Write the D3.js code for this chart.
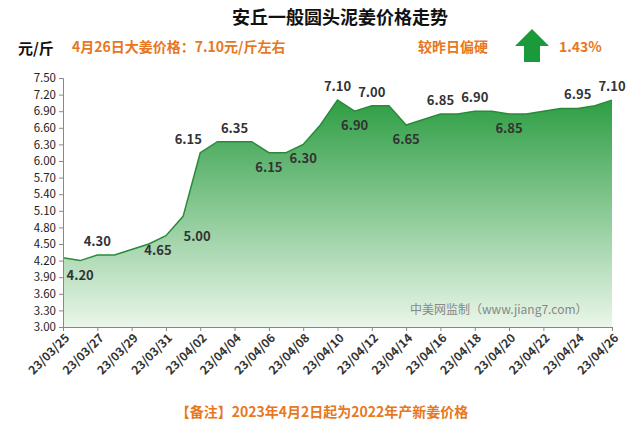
<!DOCTYPE html><html><head><meta charset="utf-8"><script src="https://cdn.jsdelivr.net/npm/d3@7"></script>
<style>body{margin:0;background:#fff}text{font-family:"Noto Sans CJK SC","Noto Sans",sans-serif}</style></head><body>
<svg id="c" width="640" height="425"></svg>
<script>
const dates=["23/03/25","23/03/26","23/03/27","23/03/28","23/03/29","23/03/30","23/03/31","23/04/01","23/04/02","23/04/03","23/04/04","23/04/05","23/04/06","23/04/07","23/04/08","23/04/09","23/04/10","23/04/11","23/04/12","23/04/13","23/04/14","23/04/15","23/04/16","23/04/17","23/04/18","23/04/19","23/04/20","23/04/21","23/04/22","23/04/23","23/04/24","23/04/25","23/04/26"];
const prices=[4.25,4.20,4.30,4.30,4.40,4.50,4.65,5.00,6.15,6.35,6.35,6.35,6.15,6.15,6.30,6.65,7.10,6.90,7.00,7.00,6.65,6.75,6.85,6.85,6.90,6.90,6.85,6.85,6.90,6.95,6.95,7.00,7.10];
const labelled=[[1,-1],[2,1],[6,-1],[7,-1],[8,1],[10,1],[12,-1],[14,-1],[16,1],[17,-1],[18,1],[20,-1],[22,1],[24,1],[26,-1],[30,1],[32,1]];
const yTicks=d3.range(3.0,7.51,0.3);
const svg=d3.select("#c");
const L=63,R=612,T=78,B=327;
const x=d3.scalePoint().domain(dates).range([L,R]);
const y=d3.scaleLinear().domain([3,7.5]).range([B,T]);
const g=svg.append("defs").append("linearGradient").attr("id","gr").attr("x1",0).attr("y1",0).attr("x2",0).attr("y2",1);
g.append("stop").attr("offset","0%").attr("stop-color","#2e9e44");
g.append("stop").attr("offset","100%").attr("stop-color","#eaf6ea");
const data=dates.map((d,i)=>({d,v:prices[i]}));
svg.append("path").datum(data).attr("fill","url(#gr)").attr("d",d3.area().x(p=>x(p.d)).y0(B).y1(p=>y(p.v)));
svg.append("path").datum(data).attr("fill","none").attr("stroke","#2a8a3a").attr("stroke-width",1.5).attr("d",d3.line().x(p=>x(p.d)).y(p=>y(p.v)));
const ya=svg.append("g").attr("transform",`translate(${L},0)`).call(d3.axisLeft(y).tickValues(yTicks).tickFormat(d3.format(".2f")).tickSize(4));
ya.selectAll("text").attr("font-size",11.5).attr("fill","#222");
const xa=svg.append("g").attr("transform",`translate(0,${B})`).call(d3.axisBottom(x).tickValues(dates.filter((d,i)=>i%2==0)).tickSize(4));
xa.selectAll("text").attr("font-size",12).attr("font-weight","bold").attr("fill","#333").attr("text-anchor","end").attr("dx","-0.3em").attr("dy","0.5em").attr("transform","rotate(-45)");
[ya,xa].forEach(a=>a.selectAll("path,line").attr("stroke","#888"));
const dxs={6:-8,7:14,8:-12};
labelled.forEach(([i,s])=>{svg.append("text").attr("x",x(dates[i])+(dxs[i]||0)).attr("y",y(prices[i])+(s>0?-9:19)+(i==7?6:0)).attr("text-anchor","middle").attr("font-size",13).attr("font-weight","bold").attr("fill","#333").text(prices[i].toFixed(2));});
svg.append("text").attr("x",340).attr("y",24).attr("text-anchor","middle").attr("font-size",18).attr("font-weight","bold").attr("fill","#111").text("安丘一般圆头泥姜价格走势");
svg.append("text").attr("x",18).attr("y",54).attr("font-size",15).attr("font-weight","bold").attr("fill","#111").text("元/斤");
svg.append("text").attr("x",72).attr("y",52).attr("font-size",14).attr("font-weight","bold").attr("fill","#e87722").text("4月26日大姜价格：7.10元/斤左右");
svg.append("text").attr("x",418).attr("y",52).attr("font-size",14).attr("font-weight","bold").attr("fill","#e87722").text("较昨日偏硬");
svg.append("path").attr("d","M532,29 L549,46 L540,46 L540,62 L524,62 L524,46 L515,46 Z").attr("fill","#1a9a3a");
svg.append("text").attr("x",559).attr("y",52).attr("font-size",14).attr("font-weight","bold").attr("fill","#e87722").text("1.43%");
svg.append("text").attr("x",410).attr("y",314).attr("font-size",12).attr("fill","#888").text("中美网监制（www.jiang7.com）");
svg.append("text").attr("x",322).attr("y",417).attr("text-anchor","middle").attr("font-size",14).attr("font-weight","bold").attr("fill","#e87722").text("【备注】2023年4月2日起为2022年产新姜价格");
</script></body></html>
